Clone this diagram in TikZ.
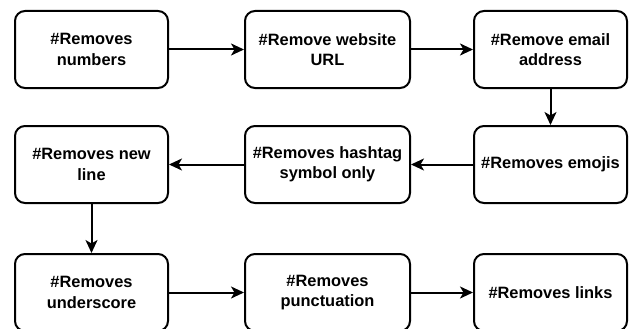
\documentclass[tikz,border=0pt]{standalone}
\usepackage{fontspec}
\setmainfont{Liberation Sans}
\usetikzlibrary{arrows.meta}
\begin{document}
\begin{tikzpicture}[x=1pt,y=-1pt,
  box/.style={draw=black, line width=2pt, rounded corners=10pt, fill=white,
    align=center, inner sep=0pt,
    font=\fontsize{16.4}{20.5}\selectfont\bfseries},
  w1/.style={minimum width=153pt, minimum height=77pt},
  w2/.style={minimum width=165pt, minimum height=77pt},
  arr/.style={line width=2pt, -{Stealth[length=13pt,width=12pt,inset=3.5pt]}}]
\useasboundingbox (0,0) rectangle (629,329);
\node[box,w1] (n1) at (91.5,49.5) {\#Removes\\numbers};
\node[box,w2] (n2) at (327.5,49.5) {\#Remove website\\URL};
\node[box,w1] (n3) at (550.5,49.5) {\#Remove email\\address};
\node[box,w1] (n4) at (550.5,164.5) {\#Removes emojis};
\node[box,w2] (n5) at (327.5,164.5) {\#Removes hashtag\\symbol only};
\node[box,w1] (n6) at (91.5,164.5) {\#Removes new\\line};
\node[box,w1] (n7) at (91.5,292.5) {\#Removes\\underscore};
\node[box,w2] (n8) at (327.5,292.5) {\#Removes\\punctuation};
\node[box,w1] (n9) at (550.5,292.5) {\#Removes links};
\draw[arr] (n1) -- (n2);
\draw[arr] (n2) -- (n3);
\draw[arr] (n3) -- (n4);
\draw[arr] (n4) -- (n5);
\draw[arr] (n5) -- (n6);
\draw[arr] (n6) -- (n7);
\draw[arr] (n7) -- (n8);
\draw[arr] (n8) -- (n9);
\end{tikzpicture}
\end{document}
